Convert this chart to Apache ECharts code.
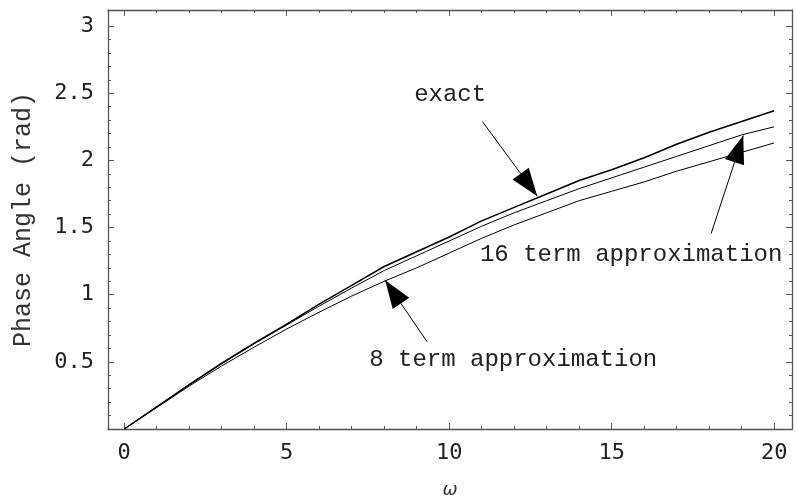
<!DOCTYPE html>
<html lang="en">
<head>
    <meta charset="UTF-8">
    <title>Phase Angle</title>
    <script src="https://cdn.jsdelivr.net/npm/echarts@6/dist/echarts.min.js"></script>
</head>
<body style="margin:0">
    <div id="app" style="width: 796px;height:504px;"></div>
    <script>
        // omega samples and the three phase curves (rad)
        const omega  = [0,1,2,3,4,5,6,7,8,9,10,11,12,13,14,15,16,17,18,19,20];
        const exact  = [0,0.165,0.33,0.49,0.64,0.78,0.93,1.07,1.21,1.32,1.43,1.55,1.65,1.75,1.85,1.93,2.02,2.12,2.21,2.29,2.37];
        const term16 = [0,0.165,0.33,0.485,0.635,0.775,0.915,1.05,1.18,1.29,1.40,1.51,1.61,1.70,1.79,1.87,1.95,2.03,2.11,2.19,2.25];
        const term8  = [0,0.16,0.32,0.47,0.61,0.745,0.87,0.99,1.10,1.20,1.31,1.42,1.52,1.61,1.70,1.77,1.84,1.92,1.99,2.06,2.13];

        const xMajor = [0,5,10,15,20];
        const xMinor = [1,2,3,4,6,7,8,9,11,12,13,14,16,17,18,19];
        const yMajor = [0.5,1,1.5,2,2.5,3];
        const yMinor = [0.1,0.2,0.3,0.4,0.6,0.7,0.8,0.9,1.1,1.2,1.3,1.4,1.6,1.7,1.8,1.9,2.1,2.2,2.3,2.4,2.6,2.7,2.8,2.9];

        // annotation: [text, text position, arrow start, arrow tip] in data units
        const notes = [
            ['exact', [10.03, 2.49], [11.02, 2.29], [12.71, 1.734]],
            ['16 term approximation', [15.6, 1.30], [18.06, 1.454], [19.05, 2.185]],
            ['8 term approximation', [11.97, 0.517], [9.32, 0.65], [8.03, 1.107]]
        ];

        const frame = '#555';
        const mono = 'Liberation Mono';
        const head = 'path://M0,0L8,26L-8,26Z';

        function pairs(ys) { return omega.map((w, i) => [w, ys[i]]); }

        function xAx(pos, ticks, len, major) {
            return {
                type: 'value', position: pos, min: -0.5, max: 20.55,
                axisLine: { show: major, onZero: false, lineStyle: { color: frame, width: 1.3 } },
                axisTick: { show: true, inside: true, length: len, customValues: ticks, lineStyle: { color: frame } },
                axisLabel: { show: major && pos === 'bottom', customValues: ticks, margin: 13,
                    fontFamily: 'DejaVu Sans Mono', fontSize: 22, color: '#222' },
                splitLine: { show: false }
            };
        }
        function yAx(pos, ticks, len, major) {
            return {
                type: 'value', position: pos, min: 0, max: 3.12,
                axisLine: { show: major, onZero: false, lineStyle: { color: frame, width: 1.3 } },
                axisTick: { show: true, inside: true, length: len, customValues: ticks, lineStyle: { color: frame } },
                axisLabel: { show: major && pos === 'left', customValues: ticks, margin: 14,
                    fontFamily: 'DejaVu Sans Mono', fontSize: 22, color: '#222' },
                splitLine: { show: false }
            };
        }

        const xAxes = [xAx('bottom', xMajor, 6, true), xAx('bottom', xMinor, 3, false),
                       xAx('top', xMajor, 6, true), xAx('top', xMinor, 3, false)];
        Object.assign(xAxes[0], { name: 'ω', nameLocation: 'middle', nameGap: 52,
            nameTextStyle: { fontFamily: 'DejaVu Sans', fontStyle: 'italic', fontSize: 18, color: '#333' } });
        const yAxes = [yAx('left', yMajor, 6, true), yAx('left', yMinor, 3, false),
                       yAx('right', yMajor, 6, true), yAx('right', yMinor, 3, false)];
        Object.assign(yAxes[0], { name: 'Phase Angle (rad)', nameLocation: 'middle', nameGap: 72,
            nameTextStyle: { fontFamily: mono, fontSize: 25, color: '#333' } });

        function curve(name, ys, width, note) {
            return {
                name: name, type: 'line', data: pairs(ys), symbol: 'none', silent: true,
                lineStyle: { color: '#000', width: width },
                markLine: {
                    silent: true, animation: false,
                    symbol: ['none', head], symbolSize: [20, 28],
                    symbolOffset: [[0, 0], [0, 14]],
                    lineStyle: { color: '#000', width: 1, type: 'solid' },
                    label: { show: false },
                    data: [[{ coord: note[2] }, { coord: note[3] }]]
                },
                markPoint: {
                    silent: true, animation: false,
                    symbol: 'rect', symbolSize: 1, itemStyle: { color: 'rgba(0,0,0,0)' },
                    label: { show: true, position: 'inside', formatter: note[0],
                        fontFamily: mono, fontSize: 24, color: '#222' },
                    data: [{ coord: note[1] }]
                }
            };
        }

        const myChart = echarts.init(document.getElementById('app'));
        myChart.setOption({
            animation: false,
            backgroundColor: '#fff',
            grid: { left: 108, right: 4, top: 10, bottom: 71 },
            xAxis: xAxes,
            yAxis: yAxes,
            series: [
                curve('exact', exact, 1.5, notes[0]),
                curve('16 term', term16, 1, notes[1]),
                curve('8 term', term8, 1, notes[2])
            ]
        });
    </script>
</body>
</html>
